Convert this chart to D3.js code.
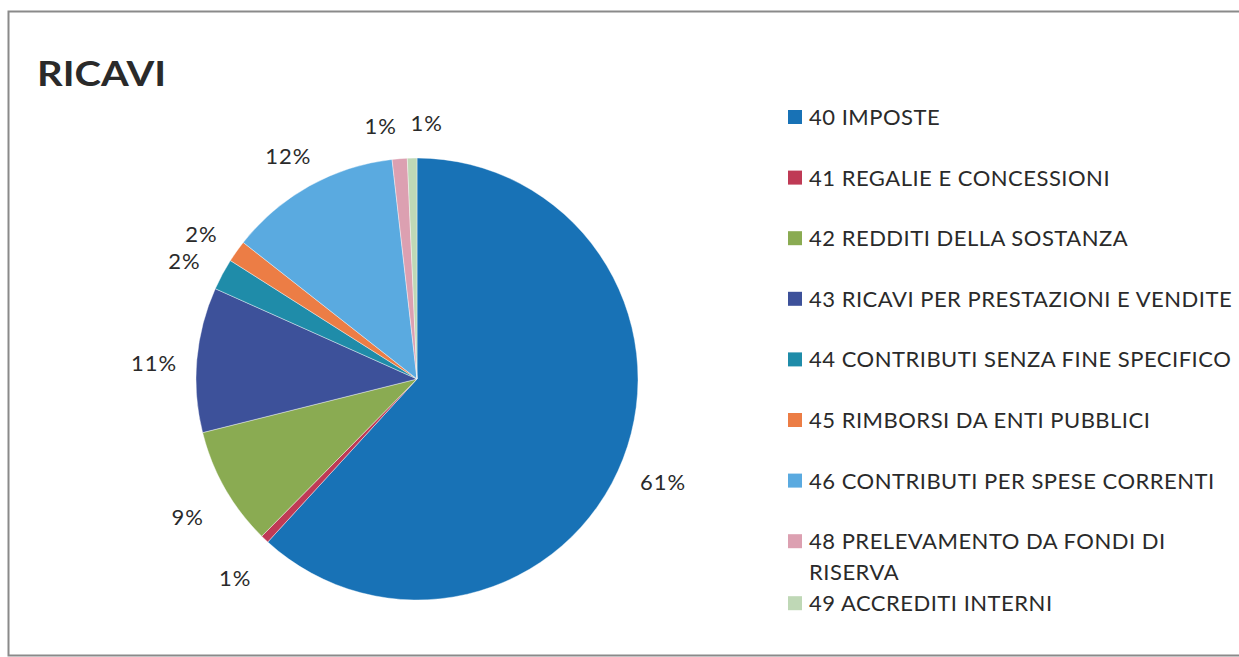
<!DOCTYPE html>
<html lang="it">
	<head>
		<meta charset="utf-8">
		<title>Ricavi</title>
		<script src="https://cdn.jsdelivr.net/npm/d3@7"></script>
		<style>
			html, body { margin: 0; padding: 0; background-color: white; }
			text { font-family: Lato, "Open Sans", sans-serif; fill: #2a2a2a; }
		</style>
	</head>
	<body>
		<script>

			//Chart data
			var categories = ["40 IMPOSTE", "41 REGALIE E CONCESSIONI", "42 REDDITI DELLA SOSTANZA",
				"43 RICAVI PER PRESTAZIONI E VENDITE", "44 CONTRIBUTI SENZA FINE SPECIFICO",
				"45 RIMBORSI DA ENTI PUBBLICI", "46 CONTRIBUTI PER SPESE CORRENTI",
				"48 PRELEVAMENTO DA FONDI DI RISERVA", "49 ACCREDITI INTERNI"];
			var values = [61.8, 0.6, 8.7, 10.6, 2.3, 1.6, 12.6, 1.1, 0.7];
			var shownPct = ["61%", "1%", "9%", "11%", "2%", "2%", "12%", "1%", "1%"];
			var colors = ["#1872b6", "#bf3a55", "#8aab52", "#3d519a", "#1f8ca9",
				"#ec7d45", "#5aaae0", "#dca0b1", "#bfd8b6"];
			//legend lines (one entry wraps to two lines)
			var legendLines = [["40 IMPOSTE"], ["41 REGALIE E CONCESSIONI"], ["42 REDDITI DELLA SOSTANZA"],
				["43 RICAVI PER PRESTAZIONI E VENDITE"], ["44 CONTRIBUTI SENZA FINE SPECIFICO"],
				["45 RIMBORSI DA ENTI PUBBLICI"], ["46 CONTRIBUTI PER SPESE CORRENTI"],
				["48 PRELEVAMENTO DA FONDI DI", "RISERVA"], ["49 ACCREDITI INTERNI"]];

			var w = 1239;
			var h = 657;
			var cx = 417, cy = 379, radius = 221;

			var svg = d3.select("body")
						.append("svg")
						.attr("width", w)
						.attr("height", h);

			//Frame (right side runs off the page)
			svg.append("path")
				.attr("d", "M1260,11.5H8.5V655.5H1260")
				.attr("fill", "none")
				.attr("stroke", "#8a8a8a")
				.attr("stroke-width", 2);

			//Title
			svg.append("text")
				.attr("x", 37)
				.attr("y", 86)
				.text("RICAVI")
				.attr("font-weight", "bold")
				.attr("font-size", "35px")
				.attr("textLength", 129)
				.attr("lengthAdjust", "spacingAndGlyphs");

			var data = categories.map(function(c, i) {
				return { name: c, value: values[i], color: colors[i], pct: shownPct[i] };
			});

			var pie = d3.pie()
						.sort(null)
						.value(function(d) { return d.value; });

			var arc = d3.arc()
						.innerRadius(0)
						.outerRadius(radius);

			var arcs = pie(data);

			var g = svg.append("g")
						.attr("transform", "translate(" + cx + "," + cy + ")");

			g.selectAll("path")
			 .data(arcs)
			 .enter()
			 .append("path")
			 .attr("d", arc)
			 .attr("fill", function(d) { return d.data.color; })
			 .attr("stroke", "white")
			 .attr("stroke-width", 0.4);

			//Percent labels outside the pie
			var labelR = 264;
			var labels = arcs.map(function(d) {
				var a = (d.startAngle + d.endAngle) / 2;
				return { x: labelR * Math.sin(a), y: -labelR * Math.cos(a), text: d.data.pct };
			});

			//push apart labels that overlap (small slices at the top)
			for (var i = 1; i < labels.length; i++) {
				var p = labels[i - 1], q = labels[i];
				if (Math.abs(p.y - q.y) < 20 && Math.abs(p.x - q.x) < 46) {
					var gap = (46 - Math.abs(p.x - q.x)) / 2;
					p.x -= gap; q.x += gap;
					p.y += 3; q.y += 1;
				}
			}

			g.selectAll("text.pct")
			 .data(labels)
			 .enter()
			 .append("text")
			 .attr("class", "pct")
			 .attr("x", function(d) { return d.x; })
			 .attr("y", function(d) { return d.y; })
			 .attr("dy", "0.7em")
			 .attr("text-anchor", "middle")
			 .attr("font-size", "22px")
			 .attr("letter-spacing", "1px")
			 .text(function(d) { return d.text; });

			//Legend
			var legX = 788;
			var rowY = 117, rowStep = 60.6, lineStep = 31;
			var legend = svg.append("g");
			data.forEach(function(d, i) {
				var lines = legendLines[i];
				legend.append("rect")
					.attr("x", legX)
					.attr("y", rowY - 7)
					.attr("width", 14)
					.attr("height", 14)
					.attr("fill", d.color);
				lines.forEach(function(line, k) {
					legend.append("text")
						.attr("x", legX + 21)
						.attr("y", rowY + k * lineStep)
						.attr("dy", "0.36em")
						.attr("font-size", "22px")
						.attr("letter-spacing", "0.5px")
						.text(line);
				});
				rowY += (lines.length > 1) ? lineStep * lines.length : rowStep;
			});

		</script>
	</body>
</html>
